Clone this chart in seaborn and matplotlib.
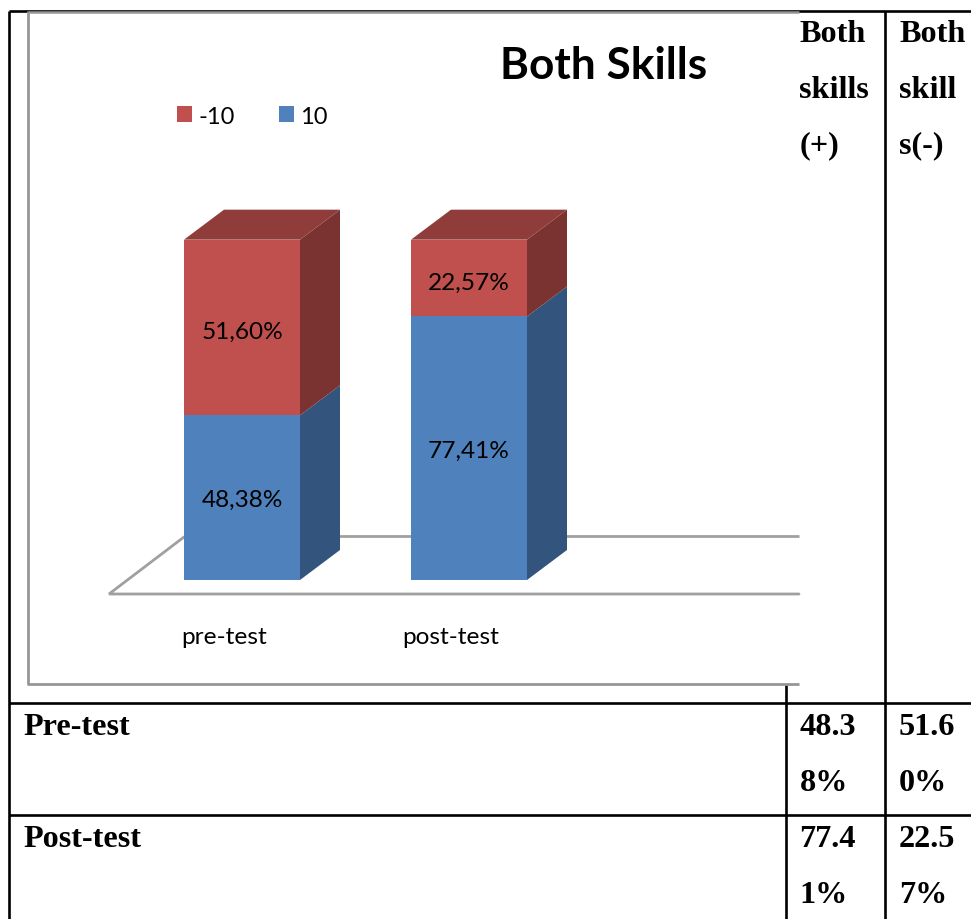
import matplotlib
matplotlib.use("Agg")
import matplotlib.pyplot as plt
import matplotlib.transforms as mtransforms
from matplotlib.patches import Polygon
import pandas as pd
import seaborn as sns

stages = ["pre-test", "post-test"]
positive = [48.38, 77.41]
negative = [51.60, 22.57]
positive_labels = ["48,38%", "77,41%"]
negative_labels = ["51,60%", "22,57%"]

table_header_plus = ["Both", "skills", "(+)"]
table_header_minus = ["Both", "skill", "s(-)"]
table_rows = ["Pre-test", "Post-test"]
table_plus = [["48.3", "8%"], ["77.4", "1%"]]
table_minus = [["51.6", "0%"], ["22.5", "7%"]]

W, H = 971, 920
DEPTH_X = 40  # pixels
DEPTH_Y = 30
BLUE, BLUE_SIDE = "#4F81BD", "#32547D"
RED, RED_SIDE, RED_TOP = "#C0504D", "#7A3330", "#8F3C3A"
GREY = "#969696"
LABEL_SIZE = 17.6

sns.set_theme(style="white")
plt.rcParams["font.family"] = ["Lato", "DejaVu Sans"]

fig = plt.figure(figsize=(W / 100, H / 100), dpi=100, facecolor="white")

# page layer in pixel coordinates: the word table and the chart frame
page = fig.add_axes([0, 0, 1, 1], zorder=0)
page.set_xlim(0, W)
page.set_ylim(H, 0)
page.axis("off")

for y in [12, 704, 816]:
    page.plot([9, W], [y, y], color="black", lw=1.9, solid_capstyle="butt")
page.plot([9, 9], [12, H], color="black", lw=1.9, solid_capstyle="butt")
page.plot([885, 885], [12, H], color="black", lw=1.9, solid_capstyle="butt")
page.plot([785.5, 785.5], [685, H], color="black", lw=1.9, solid_capstyle="butt")

page.plot([28, 799], [12.5, 12.5], color=GREY, lw=1.8, solid_capstyle="butt")
page.plot([28, 28], [12, 685], color=GREY, lw=2.0, solid_capstyle="butt")
page.plot([27, 799], [684.5, 684.5], color=GREY, lw=2.0, solid_capstyle="butt")

# chart floor
page.plot([799, 109, 184], [595, 595, 538], color="#A0A0A0", lw=2.0, solid_joinstyle="miter")
page.plot([184, 799], [537, 537], color="#A0A0A0", lw=2.0, solid_capstyle="butt")

page.text(604, 66, "Both Skills", fontsize=31.8, fontweight="bold", color="black",
          ha="center", va="center")

serif = dict(family="Liberation Serif", fontweight="bold", color="black", fontsize=23.2, va="center")
for i, (a, b) in enumerate(zip(table_header_plus, table_header_minus)):
    page.text(799.5, 34 + i * 56, a, **serif)
    page.text(899, 34 + i * 56, b, **serif)
for r, y in enumerate([727.5, 839.5]):
    page.text(23, y, table_rows[r], **serif)
    for i in range(2):
        page.text(799.5, y + i * 56, table_plus[r][i], **serif)
        page.text(899, y + i * 56, table_minus[r][i], **serif)

# chart layer
ax = fig.add_axes([128.5 / W, (H - 581) / H, 454 / W, 340.4 / H], zorder=1)
ax.patch.set_alpha(0)
df = pd.DataFrame({"stage": stages, "pos": positive, "neg": negative})
df["total"] = df["pos"] + df["neg"]

sns.barplot(data=df, x="stage", y="total", color=RED, saturation=1, width=0.511,
            label="-10", linewidth=0, ax=ax, zorder=3)
sns.barplot(data=df, x="stage", y="pos", color=BLUE, saturation=1, width=0.511,
            label="10", linewidth=0, ax=ax, zorder=3)
ax.set_xlim(-0.5, 1.5)
ax.set_ylim(0, 100)

dx = DEPTH_X * 2 / 454
dy = DEPTH_Y * 100 / 340.4
for bar, pos, tot in zip(ax.patches[:2], df["pos"], df["total"]):
    x0, x1 = bar.get_x(), bar.get_x() + bar.get_width()
    faces = [
        ([(x1, 0), (x1 + dx, dy), (x1 + dx, pos + dy), (x1, pos)], BLUE_SIDE),
        ([(x1, pos), (x1 + dx, pos + dy), (x1 + dx, tot + dy), (x1, tot)], RED_SIDE),
        ([(x0, tot), (x0 + dx, tot + dy), (x1 + dx, tot + dy), (x1, tot)], RED_TOP),
    ]
    for pts, color in faces:
        ax.add_patch(Polygon(pts, closed=True, facecolor=color, edgecolor="none",
                             clip_on=False, zorder=3))

# value labels sit a little under the middle of each segment
blue_down = ax.transData + mtransforms.ScaledTranslation(0, -2 / 100, fig.dpi_scale_trans)
red_down = ax.transData + mtransforms.ScaledTranslation(0, -4 / 100, fig.dpi_scale_trans)
for i in range(len(stages)):
    ax.text(i, positive[i] / 2, positive_labels[i], ha="center", va="center",
            fontsize=LABEL_SIZE, color="black", zorder=5, transform=blue_down)
    ax.text(i, positive[i] + negative[i] / 2, negative_labels[i], ha="center", va="center",
            fontsize=LABEL_SIZE, color="black", zorder=5, transform=red_down)

ax.set_xlabel("")
ax.set_ylabel("")
ax.set_yticks([])
ax.set_xticks(range(len(stages)), stages)
ax.tick_params(axis="x", length=0, pad=33, labelsize=LABEL_SIZE, labelcolor="black")
shift = mtransforms.ScaledTranslation(-18 / 100, 0, fig.dpi_scale_trans)
for lab in ax.get_xticklabels():
    lab.set_transform(lab.get_transform() + shift)
sns.despine(ax=ax, left=True, bottom=True)

handles, labels = ax.get_legend_handles_labels()
ax.legend(handles, labels, ncol=2, frameon=False, loc="center left",
          bbox_to_anchor=(177 / W, (H - 117) / H), bbox_transform=fig.transFigure,
          fontsize=17, handlelength=0.64, handleheight=0.64, handletextpad=0.25,
          columnspacing=1.9, borderpad=0, borderaxespad=0, labelcolor="black")

fig.savefig("out.png", dpi=100)
